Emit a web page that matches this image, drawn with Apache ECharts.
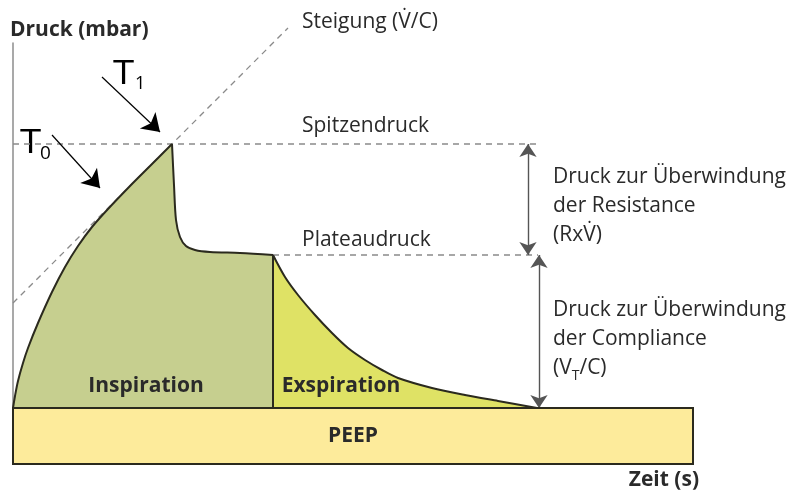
<!DOCTYPE html>
<html>
<head>
<meta charset="utf-8">
<script src="https://cdn.jsdelivr.net/npm/echarts@6/dist/echarts.min.js"></script>
<style>
html,body{margin:0;padding:0;background:#fff}
#main{width:795px;height:497px}
</style>
</head>
<body>
<div id="main"></div>
<script>
// Werte (x: Zeit, y: Druck)
var peep = 5.6;
var peepEnde = 68;
var inspAnstieg = [[0,5.6],[0.2,6.8],[0.5,8.3],[1.0,10.1],[1.5,11.6],[2.5,14.1],[3.9,17.2],[5.2,19.7],[6.5,21.8],[7.9,23.7],[9.5,25.5],[11.7,27.8],[13.7,29.8],[15.9,32.0]];
var inspAbfall = [[15.9,32.0],[16.1,27.9],[16.3,24.4],[16.7,22.7],[17.3,21.8],[18.2,21.4],[19.7,21.2],[22.7,21.1],[26.0,20.9]];
var inspEnde = [[26.0,20.9],[26.0,5.6]];
var exspKurve = [[26.0,20.9],[27.2,18.7],[28.5,16.9],[30.2,14.9],[31.9,13.1],[33.5,11.6],[35.2,10.4],[36.9,9.4],[38.5,8.6],[41.9,7.6],[45.2,6.9],[48.5,6.3],[52.4,5.6]];
var steigung = [[0,16.1],[27.5,43.6]];
var spitzendruck = 32.0;
var plateaudruck = 20.9;
var hilfslinieEnde = 52.5;
var pfeilResistanceX = 51.5;
var pfeilComplianceX = 52.6;
var pfeilT1 = [[8.9,38.7],[14.7,33.2]];
var pfeilT0 = [[3.9,32.9],[8.7,27.6]];

var dunkel = '#2b2a1e';
var schrift = '#2a2a2a';
var fontN = '21px "Open Sans", sans-serif';
var fontB = 'bold 21px "Open Sans", sans-serif';
var fontSub = '14px "Open Sans", sans-serif';

// Breiten für den tiefgestellten Index
var mess = document.createElement('canvas').getContext('2d');
mess.font = fontN;
var breiteV = mess.measureText('(V').width;
mess.font = fontSub;
var breiteT = mess.measureText('T').width;

var chart = echarts.init(document.getElementById('main'));

function kurve(name, daten, farbe){
  return {
    name: name, type: 'line', data: daten, smooth: 0.3,
    showSymbol: false, clip: false, z: 3,
    lineStyle: {color: dunkel, width: 2},
    areaStyle: farbe ? {color: farbe, opacity: 1} : null
  };
}
function gestrichelt(daten){
  return {
    type: 'line', data: daten, showSymbol: false, clip: false, z: 2, silent: true,
    lineStyle: {color: '#8a8a8a', width: 1.3, type: [6, 5]}
  };
}
function pfeil(von, bis, enden, farbe, breite, groesse){
  return [{coord: von, symbol: enden[0], symbolSize: groesse},
    {coord: bis, symbol: enden[1], symbolSize: groesse,
    lineStyle: {color: farbe, width: breite, type: 'solid'}}];
}
function text(x, y, t, font, extra){
  var s = {text: t, font: font, fill: schrift, textVerticalAlign: 'middle'};
  for (var k in extra) s[k] = extra[k];
  return {type: 'text', x: x, y: y, z: 10, style: s};
}

var option = {
  animation: false,
  grid: {left: 13, top: 43, width: 680, height: 421},
  xAxis: {type: 'value', min: 0, max: peepEnde, show: false},
  yAxis: {
    type: 'value', min: 0, max: 42.1,
    axisLine: {show: true, lineStyle: {color: '#8c8c8c', width: 1.5}},
    axisTick: {show: false}, axisLabel: {show: false}, splitLine: {show: false}
  },
  series: [
    kurve('Inspiration', inspAnstieg, '#c6cf8f'),
    kurve('Inspiration2', inspAbfall, '#c6cf8f'),
    kurve('Exspiration', exspKurve, '#dfe265'),
    kurve('Grenze', inspEnde, null),
    gestrichelt(steigung),
    gestrichelt([[0, spitzendruck], [hilfslinieEnde, spitzendruck]]),
    gestrichelt([[inspEnde[0][0], plateaudruck], [hilfslinieEnde, plateaudruck]]),
    {
      type: 'custom', z: 5, data: [[0, peepEnde, peep]],
      renderItem: function(params, api){
        var a = api.coord([api.value(0), api.value(2)]);
        var b = api.coord([api.value(1), 0]);
        return {type: 'rect', shape: {x: a[0], y: a[1], width: b[0]-a[0], height: b[1]-a[1]},
          style: {fill: '#fdeb9b', stroke: dunkel, lineWidth: 2}};
      }
    },
    {
      type: 'line', data: [], z: 6,
      markLine: {
        silent: true, animation: false,
        label: {show: false},
        lineStyle: {color: '#555', width: 1.3, type: 'solid'},
        data: [
          pfeil([pfeilResistanceX, spitzendruck], [pfeilResistanceX, plateaudruck], ['arrow','arrow'], '#555', 1.4, 13),
          pfeil([pfeilComplianceX, plateaudruck], [pfeilComplianceX, peep], ['arrow','arrow'], '#555', 1.4, 13),
          pfeil(pfeilT1[0], pfeilT1[1], ['none','arrow'], '#000', 1.2, 17),
          pfeil(pfeilT0[0], pfeilT0[1], ['none','arrow'], '#000', 1.2, 17)
        ]
      }
    }
  ],
  graphic: [
    text(10, 30, 'Druck (mbar)', fontB),
    text(302, 22, 'Steigung (V\u0307/C)', fontN),
    text(302, 126, 'Spitzendruck', fontN),
    text(302, 240, 'Plateaudruck', fontN),
    text(553, 177, 'Druck zur Überwindung', fontN),
    text(553, 206, 'der Resistance', fontN),
    text(553, 235, '(RxV\u0307)', fontN),
    text(553, 310, 'Druck zur Überwindung', fontN),
    text(553, 339, 'der Compliance', fontN),
    text(553, 368, '(V', fontN),
    text(553 + breiteV, 376, 'T', fontSub),
    text(553 + breiteV + breiteT, 368, '/C)', fontN),
    text(146, 386, 'Inspiration', fontB, {textAlign: 'center'}),
    text(341, 386, 'Exspiration', fontB, {textAlign: 'center'}),
    text(353, 436, 'PEEP', fontB, {textAlign: 'center'}),
    text(699, 480, 'Zeit (s)', fontB, {textAlign: 'right'}),
    {type: 'text', x: 113, y: 75, scaleX: 1.2, style: {text: 'T', font: '32px "Open Sans", sans-serif', fill: '#000', textVerticalAlign: 'middle'}},
    {type: 'text', x: 135, y: 84, style: {text: '1', font: '18px "Open Sans", sans-serif', fill: '#000', textVerticalAlign: 'middle'}},
    {type: 'text', x: 20, y: 144, scaleX: 1.2, style: {text: 'T', font: '32px "Open Sans", sans-serif', fill: '#000', textVerticalAlign: 'middle'}},
    {type: 'text', x: 40, y: 154, style: {text: '0', font: '19px "Open Sans", sans-serif', fill: '#000', textVerticalAlign: 'middle'}}
  ]
};
chart.setOption(option);
</script>
</body>
</html>
